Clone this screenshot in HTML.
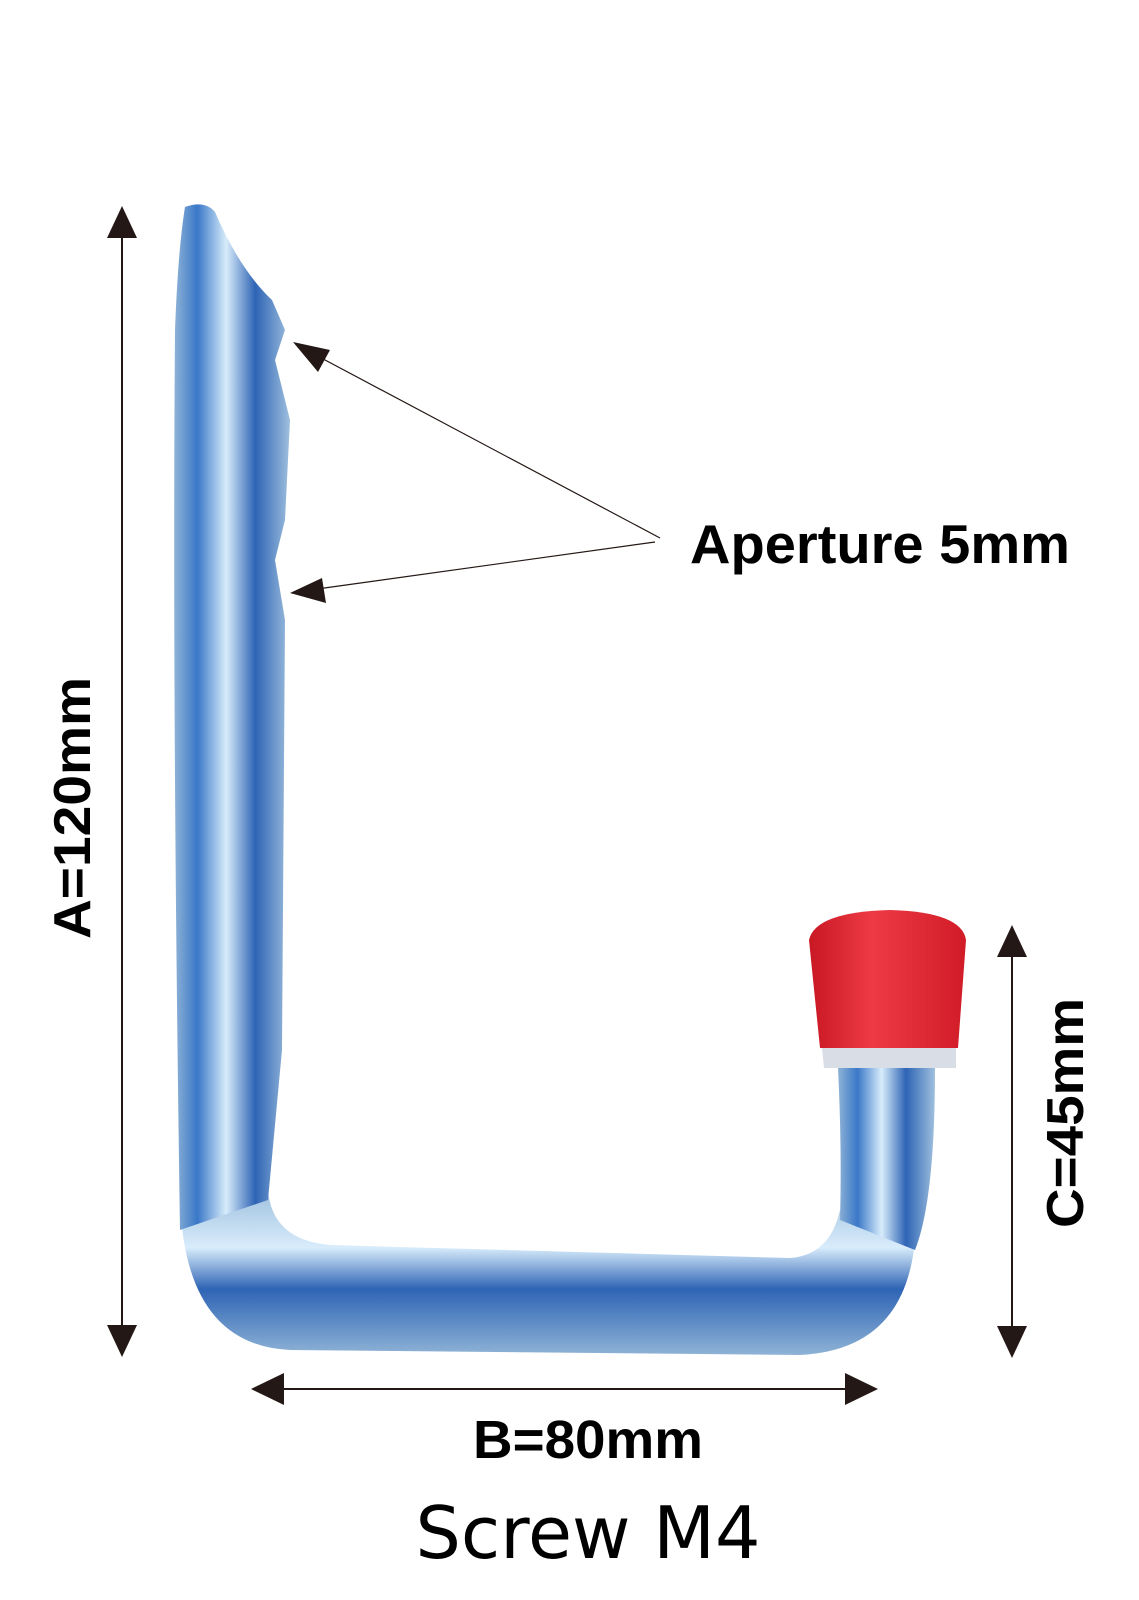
<!DOCTYPE html>
<html><head><meta charset="utf-8"><style>
html,body{margin:0;padding:0;background:#fff}
svg{display:block}
</style></head><body>
<svg width="1139" height="1600" viewBox="0 0 1139 1600" xmlns="http://www.w3.org/2000/svg">
<defs>
<linearGradient id="mv" x1="0" y1="0" x2="1" y2="0">
<stop offset="0" stop-color="#8fb3d6"/><stop offset="0.2" stop-color="#3a78c8"/><stop offset="0.45" stop-color="#d8ecfb"/><stop offset="0.7" stop-color="#2e64b5"/><stop offset="1" stop-color="#9fc0de"/>
</linearGradient>
<linearGradient id="mh" x1="0" y1="0" x2="0" y2="1">
<stop offset="0" stop-color="#9fc0de"/><stop offset="0.35" stop-color="#d8ecfb"/><stop offset="0.6" stop-color="#2e64b5"/><stop offset="1" stop-color="#8fb3d6"/>
</linearGradient>
<linearGradient id="red" x1="0" y1="0" x2="1" y2="0">
<stop offset="0" stop-color="#c81824"/><stop offset="0.4" stop-color="#ee3a44"/><stop offset="1" stop-color="#d11c28"/>
</linearGradient>
</defs>
<path d="M180 1200 Q185 1345 290 1350 L800 1355 Q905 1350 915 1240 L840 1210 Q830 1255 790 1258 L330 1245 Q272 1240 268 1190 Z" fill="url(#mh)"/>
<path d="M838 1068 L935 1068 Q935 1200 915 1250 L840 1220 Q842 1150 838 1068 Z" fill="url(#mv)"/>
<path d="M185 207 Q205 200 215 212 Q240 270 272 300 L285 330 L275 360 L290 420 L285 520 L275 560 L285 620 L282 1050 L268 1200 L180 1230 Q172 700 175 330 Q178 250 185 207 Z" fill="url(#mv)"/>
<path d="M820 1048 L958 1048 L966 940 Q962 912 890 910 Q815 912 809 940 Z" fill="url(#red)"/>
<path d="M822 1048 L956 1048 L956 1068 L824 1068 Z" fill="#d9dee6"/>
<g fill="#231815" stroke="#231815">
<line x1="122" y1="225" x2="122" y2="1335" stroke-width="2"/>
<polygon points="122,206 107,238 137,238" stroke="none"/>
<polygon points="122,1357 107,1325 137,1325" stroke="none"/>
<line x1="1012" y1="940" x2="1012" y2="1340" stroke-width="2"/>
<polygon points="1012,925 997,957 1027,957" stroke="none"/>
<polygon points="1012,1358 997,1326 1027,1326" stroke="none"/>
<line x1="270" y1="1389" x2="860" y2="1389" stroke-width="2"/>
<polygon points="251,1389 284,1373 284,1405" stroke="none"/>
<polygon points="878,1389 845,1373 845,1405" stroke="none"/>
<line x1="660" y1="538" x2="310" y2="352" stroke-width="1.2"/>
<polygon points="293,342 330,350 318,372" stroke="none"/>
<line x1="655" y1="542" x2="310" y2="590" stroke-width="1.2"/>
<polygon points="290,593 322,578 326,603" stroke="none"/>
</g>
<g font-family="Liberation Sans, sans-serif" font-weight="bold" fill="#000">
<text x="690" y="563" font-size="55" textLength="380" lengthAdjust="spacingAndGlyphs">Aperture 5mm</text>
<text x="588" y="1458" font-size="54" text-anchor="middle" textLength="230" lengthAdjust="spacingAndGlyphs">B=80mm</text>
<text transform="translate(90,808) rotate(-90)" font-size="52" text-anchor="middle" textLength="262" lengthAdjust="spacingAndGlyphs">A=120mm</text>
<text transform="translate(1083,1113) rotate(-90)" font-size="52" text-anchor="middle" textLength="230" lengthAdjust="spacingAndGlyphs">C=45mm</text>
</g>
<text x="588" y="1558" font-family="DejaVu Sans, sans-serif" font-size="72" text-anchor="middle" fill="#000" textLength="345" lengthAdjust="spacingAndGlyphs">Screw M4</text>
</svg>
</body></html>
